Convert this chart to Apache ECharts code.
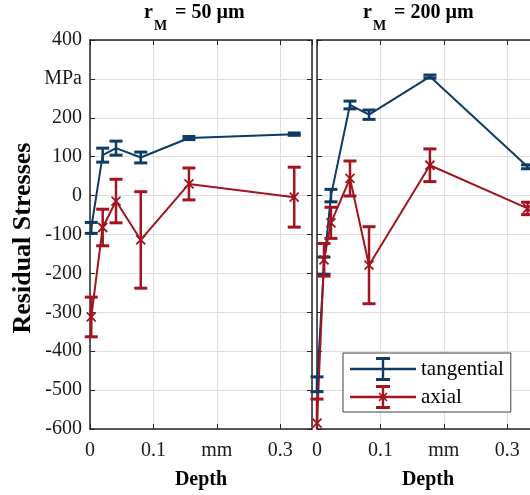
<!DOCTYPE html>
<html><head><meta charset="utf-8">
<script src="https://cdn.jsdelivr.net/npm/echarts@6/dist/echarts.min.js"></script>
<style>html,body{margin:0;padding:0;background:#fff}#c{width:530px;height:495px}</style>
</head><body><div id="c"></div>
<script>
// ---- tick labels ----
const xTickValues = [0, 0.1, 0.2, 0.3];
const xTickLabels = ['0', '0.1', 'mm', '0.3'];
const yTickValues = [400, 300, 200, 100, 0, -100, -200, -300, -400, -500, -600];
const yTickLabels = ['400', 'MPa', '200', '100', '0', '-100', '-200', '-300', '-400', '-500', '-600'];

// ---- titles / names ----
const titleMain = 'r';
const titleSub = 'M';
const titleRest = ['= 50 µm', '= 200 µm'];
const seriesNames = ['tangential', 'axial'];
const xName = 'Depth';
const yName = 'Residual Stresses';

// ---- left panel (r_M = 50 µm) ----
const depthL = [0.002, 0.020, 0.041, 0.080, 0.156, 0.322];
const tanL = [-83, 104, 122, 98, 148, 158];
const tanLerr = [14, 18, 18, 14, 4, 3];
const axL = [-312, -82, -14, -114, 30, -4];
const axLerr = [51, 47, 56, 124, 41, 77];

// ---- right panel (r_M = 200 µm) ----
const depthR = [0.000, 0.011, 0.022, 0.052, 0.082, 0.178, 0.332];
const tanR = [-485, -180, 0, 233, 208, 306, 74];
const tanRerr = [19, 22, 16, 10, 12, 4, 5];
const axR = [-585, -165, -70, 44, -179, 78, -33];
const axRerr = [62, 42, 40, 45, 99, 42, 16];

const BLUE = '#0d3b63';
const RED = '#a3141f';
const AX = '#262626';
const FONT = '"Liberation Serif", "Times New Roman", serif';

function xFmt(v) {
  for (let i = 0; i < xTickValues.length; i++) if (Math.abs(v - xTickValues[i]) < 1e-6) return xTickLabels[i];
  return '';
}
function yFmt(v) {
  for (let i = 0; i < yTickValues.length; i++) if (Math.abs(v - yTickValues[i]) < 1e-6) return yTickLabels[i];
  return '';
}

const axisLine = {show: true, onZero: false, lineStyle: {color: AX, width: 1.5}};
const axisTick = {show: true, inside: true, length: 5, lineStyle: {color: AX, width: 1}};
const split = {show: true, lineStyle: {color: '#dedede', width: 1}};

function makeX(gi) {
  return [
    {type: 'value', gridIndex: gi, position: 'bottom', min: 0, max: 0.35, interval: 0.1,
     axisLine, axisTick, splitLine: split,
     axisLabel: {formatter: xFmt, fontSize: 20, fontFamily: FONT, color: '#1a1a1a', margin: 12, showMaxLabel: false},
     name: xName, nameLocation: 'middle', nameGap: 41,
     nameTextStyle: {fontSize: 20, fontWeight: 'bold', fontFamily: FONT, color: '#000'}},
    {type: 'value', gridIndex: gi, position: 'top', min: 0, max: 0.35, interval: 0.1,
     axisLine, axisTick, splitLine: {show: false}, axisLabel: {show: false}}
  ];
}
function makeY(gi) {
  const left = {type: 'value', gridIndex: gi, position: 'left', min: -600, max: 400, interval: 100,
     axisLine, axisTick, splitLine: split,
     axisLabel: {show: gi === 0, formatter: yFmt, fontSize: 20, fontFamily: FONT, color: '#1a1a1a', margin: 8}};
  return [left,
    {type: 'value', gridIndex: gi, position: 'right', min: -600, max: 400, interval: 100,
     axisLine, axisTick, splitLine: {show: false}, axisLabel: {show: false}}];
}

function errRender(color, cross) {
  return function (params, api) {
    const x = api.value(0), y = api.value(1), e = api.value(2);
    const c = api.coord([x, y]);
    const t = api.coord([x, y + e]);
    const b = api.coord([x, y - e]);
    const cs = params.coordSys;
    const y0 = cs.y, y1 = cs.y + cs.height;
    const yt = Math.max(t[1], y0), yb = Math.min(b[1], y1);
    const st = {stroke: color, lineWidth: 2.5};
    const hw = 6.5;
    const ch = [{type: 'line', shape: {x1: c[0], y1: yt, x2: c[0], y2: yb}, style: st}];
    if (t[1] >= y0) ch.push({type: 'line', shape: {x1: c[0] - hw, y1: t[1], x2: c[0] + hw, y2: t[1]}, style: {stroke: color, lineWidth: 3}});
    if (b[1] <= y1) ch.push({type: 'line', shape: {x1: c[0] - hw, y1: b[1], x2: c[0] + hw, y2: b[1]}, style: {stroke: color, lineWidth: 3}});
    if (cross) {
      const m = 4.5;
      ch.push({type: 'line', shape: {x1: c[0] - m, y1: c[1] - m, x2: c[0] + m, y2: c[1] + m}, style: {stroke: color, lineWidth: 1.8}});
      ch.push({type: 'line', shape: {x1: c[0] + m, y1: c[1] - m, x2: c[0] - m, y2: c[1] + m}, style: {stroke: color, lineWidth: 1.8}});
    }
    return {type: 'group', children: ch};
  };
}

function zip2(xs, ys) { return xs.map((x, i) => [x, ys[i]]); }
function zip3(xs, ys, es) { return xs.map((x, i) => [x, ys[i], es[i]]); }

const panels = [
  {gi: 0, depth: depthL, tan: tanL, tanE: tanLerr, ax: axL, axE: axLerr},
  {gi: 1, depth: depthR, tan: tanR, tanE: tanRerr, ax: axR, axE: axRerr}
];
const series = [];
panels.forEach(p => {
  const xi = p.gi * 2, yi = p.gi * 2;
  series.push({name: seriesNames[0], type: 'line', xAxisIndex: xi, yAxisIndex: yi, data: zip2(p.depth, p.tan),
    symbol: 'none', lineStyle: {color: BLUE, width: 2}, itemStyle: {color: BLUE}, z: 3, animation: false});
  series.push({name: seriesNames[1], type: 'line', xAxisIndex: xi, yAxisIndex: yi, data: zip2(p.depth, p.ax),
    symbol: 'none', lineStyle: {color: RED, width: 2}, itemStyle: {color: RED}, z: 3, animation: false});
  series.push({name: 'err-t' + p.gi, type: 'custom', xAxisIndex: xi, yAxisIndex: yi, data: zip3(p.depth, p.tan, p.tanE),
    encode: {x: 0, y: 1}, renderItem: errRender(BLUE, false), z: 4, animation: false, silent: true});
  series.push({name: 'err-a' + p.gi, type: 'custom', xAxisIndex: xi, yAxisIndex: yi, data: zip3(p.depth, p.ax, p.axE),
    encode: {x: 0, y: 1}, renderItem: errRender(RED, true), z: 4, animation: false, silent: true});
});

const iconT = 'path://M0,10.8L66,10.8L66,13.2L0,13.2Z M31.8,1L34.2,1L34.2,23L31.8,23Z M26,0L40,0L40,3L26,3Z M26,21L40,21L40,24L26,24Z';
const iconA = iconT + ' M29.6,7.4L37.6,15.4L36.4,16.6L28.4,8.6Z M37.6,8.6L29.6,16.6L28.4,15.4L36.4,7.4Z';

function titleTexts(x0, rest) {
  return [
    {type: 'text', x: x0, y: 13, style: {text: titleMain, fontSize: 20, fontWeight: 'bold', fontFamily: FONT, fill: '#000', textVerticalAlign: 'middle'}},
    {type: 'text', x: x0 + 10, y: 26, style: {text: titleSub, fontSize: 14, fontWeight: 'bold', fontFamily: FONT, fill: '#000', textVerticalAlign: 'middle'}},
    {type: 'text', x: x0 + 31, y: 13, style: {text: rest, fontSize: 20, fontWeight: 'bold', fontFamily: FONT, fill: '#000', textVerticalAlign: 'middle'}}
  ];
}

const option = {
  animation: false,
  backgroundColor: '#fff',
  grid: [
    {left: 90, top: 40, width: 222, height: 389, containLabel: false, outerBoundsMode: 'none', show: false},
    {left: 317, top: 40, width: 222, height: 389, containLabel: false, outerBoundsMode: 'none', show: false}
  ],
  xAxis: [...makeX(0), ...makeX(1)],
  yAxis: [...makeY(0), ...makeY(1)],
  legend: {
    left: 343, top: 353, orient: 'vertical',
    data: [{name: seriesNames[0], icon: iconT}, {name: seriesNames[1], icon: iconA}],
    itemWidth: 66, itemHeight: 24, itemGap: 4,
    padding: [4, 7, 3, 7],
    backgroundColor: '#fff', borderColor: '#404040', borderWidth: 1,
    itemStyle: {borderWidth: 0},
    textStyle: {fontSize: 21, fontFamily: FONT, color: '#000'},
    selectedMode: false
  },
  graphic: [
    ...titleTexts(144, titleRest[0]), ...titleTexts(363, titleRest[1]),
    {type: 'text', x: 23, y: 238, rotation: Math.PI / 2,
     style: {text: yName, fontSize: 26, fontWeight: 'bold', fontFamily: FONT, fill: '#000', textAlign: 'center', textVerticalAlign: 'middle'}}
  ],
  series
};

const chart = echarts.init(document.getElementById('c'), null, {renderer: 'canvas'});
chart.setOption(option);
</script>
</body></html>
